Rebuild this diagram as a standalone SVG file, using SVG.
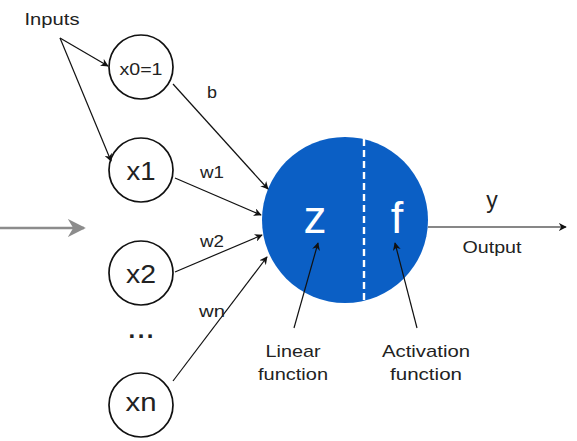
<svg xmlns="http://www.w3.org/2000/svg" width="577" height="441" viewBox="0 0 577 441">
  <defs>
    <marker id="head" viewBox="0 0 10 10" refX="9" refY="5" markerWidth="8" markerHeight="8" orient="auto" markerUnits="userSpaceOnUse">
      <path d="M0,0 L10,5 L0,10 L3,5 Z" fill="#111"/>
    </marker>
    <marker id="headGray" viewBox="0 0 10 10" refX="9" refY="5" markerWidth="18" markerHeight="18" orient="auto" markerUnits="userSpaceOnUse">
      <path d="M0,0 L10,5 L0,10 L3,5 Z" fill="#8c8c8c"/>
    </marker>
  </defs>
  <style>
    text { font-family: "Liberation Sans", Arial, sans-serif; fill: #222; }
    .in { fill: #fff; stroke: #111; stroke-width: 1.7; }
    .edge { stroke: #111; stroke-width: 1.2; fill: none; marker-end: url(#head); }
    .lbl { font-size: 17px; text-anchor: middle; }
    .big { font-size: 25px; text-anchor: middle; }
    .fn { fill: #fff; text-anchor: middle; }
  </style>
  <rect width="577" height="441" fill="#fff"/>

  <g id="inputs-label">
    <text class="lbl" x="52" y="25" textLength="55" lengthAdjust="spacingAndGlyphs">Inputs</text>
  </g>

  <g id="x0">
    <circle class="in" cx="141" cy="67" r="32"/>
    <text class="lbl" x="141" y="75" textLength="43" lengthAdjust="spacingAndGlyphs">x0=1</text>
  </g>
  <g id="x1">
    <circle class="in" cx="141" cy="170" r="32"/>
    <text class="big" x="141" y="180" textLength="29" lengthAdjust="spacingAndGlyphs">x1</text>
  </g>
  <g id="x2">
    <circle class="in" cx="141" cy="273" r="32"/>
    <text class="big" x="141" y="283" textLength="30" lengthAdjust="spacingAndGlyphs">x2</text>
  </g>
  <g id="dots">
    <text x="141" y="338" text-anchor="middle" font-size="24" font-weight="bold" textLength="25" lengthAdjust="spacing">...</text>
  </g>
  <g id="xn">
    <circle class="in" cx="141" cy="405" r="32"/>
    <text class="big" x="141" y="411" textLength="31" lengthAdjust="spacingAndGlyphs">xn</text>
  </g>

  <g id="neuron">
    <circle cx="345" cy="220" r="83" fill="#0b5fc5"/>
    <line x1="364" y1="139" x2="364" y2="302" stroke="#fff" stroke-width="2.4" stroke-dasharray="7,4"/>
    <text class="fn" x="315" y="233" font-size="46">z</text>
    <text class="fn" x="397" y="233" font-size="45">f</text>
  </g>

  <g id="output">
    <text x="492" y="208" text-anchor="middle" font-size="23">y</text>
    <text class="lbl" x="492" y="253" textLength="59" lengthAdjust="spacingAndGlyphs">Output</text>
  </g>

  <g id="linear-label">
    <text class="lbl" x="293" y="357" textLength="55" lengthAdjust="spacingAndGlyphs">Linear</text>
    <text class="lbl" x="293" y="380" textLength="70" lengthAdjust="spacingAndGlyphs">function</text>
  </g>
  <g id="activation-label">
    <text class="lbl" x="426" y="357" textLength="88" lengthAdjust="spacingAndGlyphs">Activation</text>
    <text class="lbl" x="426" y="380" textLength="72" lengthAdjust="spacingAndGlyphs">function</text>
  </g>

  <!-- connectors -->
  <g id="connectors">
    <line class="edge" x1="60" y1="38" x2="108" y2="66"/>
    <line class="edge" x1="60" y1="38" x2="111" y2="161"/>
    <line class="edge" x1="173" y1="84" x2="268" y2="189"/>
    <line class="edge" x1="175" y1="178" x2="261" y2="215"/>
    <line class="edge" x1="175" y1="272" x2="262" y2="235"/>
    <line class="edge" x1="173" y1="381" x2="267" y2="257"/>
    <line class="edge" x1="428" y1="227" x2="566" y2="227"/>
    <line class="edge" x1="294" y1="328" x2="318" y2="243"/>
    <line class="edge" x1="417" y1="328" x2="395" y2="243"/>
    <line x1="0" y1="228" x2="84" y2="228" stroke="#8c8c8c" stroke-width="2.5" marker-end="url(#headGray)"/>
    <text class="lbl" x="212" y="98" textLength="10" lengthAdjust="spacingAndGlyphs">b</text>
    <text class="lbl" x="212" y="178" textLength="24" lengthAdjust="spacingAndGlyphs">w1</text>
    <text class="lbl" x="212" y="247" textLength="24" lengthAdjust="spacingAndGlyphs">w2</text>
    <text class="lbl" x="212" y="317" textLength="26" lengthAdjust="spacingAndGlyphs">wn</text>
  </g>
</svg>
